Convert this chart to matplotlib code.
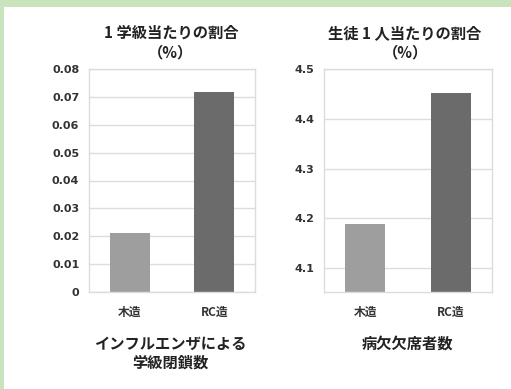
import matplotlib
matplotlib.use("Agg")
import matplotlib.pyplot as plt
from matplotlib.patches import Rectangle

plt.rcParams['font.family'] = ['Noto Sans CJK JP', 'DejaVu Sans']

categories = ["木造", "RC造"]
left_values = [0.0212, 0.0718]
right_values = [4.188, 4.451]
left_ticks = [0, 0.01, 0.02, 0.03, 0.04, 0.05, 0.06, 0.07, 0.08]
left_ticklabels = ["0", "0.01", "0.02", "0.03", "0.04", "0.05", "0.06", "0.07", "0.08"]
right_ticks = [4.1, 4.2, 4.3, 4.4, 4.5]
right_ticklabels = ["4.1", "4.2", "4.3", "4.4", "4.5"]
bar_colors = ["#9e9e9e", "#6b6b6b"]
left_title = ["1 学級当たりの割合", "（%）"]
right_title = ["生徒 1 人当たりの割合", "（%）"]
left_xlabel = ["インフルエンザによる", "学級閉鎖数"]
right_xlabel = ["病欠欠席者数"]

W, H = 511, 389
fig = plt.figure(figsize=(W / 100, H / 100), dpi=100)
fig.patch.set_facecolor("white")
# green frame at top and left
fig.patches.append(Rectangle((0, 1 - 7 / H), 1, 7 / H, transform=fig.transFigure,
                             facecolor="#c9e3bd", edgecolor="none"))
fig.patches.append(Rectangle((0, 0), 4 / W, 1, transform=fig.transFigure,
                             facecolor="#c9e3bd", edgecolor="none"))


def px_axes(x0, x1, y0, y1):
    return fig.add_axes([x0 / W, 1 - y1 / H, (x1 - x0) / W, (y1 - y0) / H])


def px_text(x, y, s, **kw):
    fig.text(x / W, 1 - y / H, s, ha="center", va="center", fontsize=11,
             fontweight="bold", color="#222222", **kw)


def style(ax, ticks, ticklabels, ylim, title, xlabel, tx, lx):
    ax.set_ylim(*ylim)
    ax.set_xlim(-0.48, 1.48)
    ax.set_yticks(ticks)
    ax.set_yticklabels(ticklabels, fontsize=8, fontweight="bold", color="#333333",
                       family=["DejaVu Sans"])
    ax.set_xticks(range(len(categories)))
    ax.set_xticklabels(categories, fontsize=8.5, fontweight="bold", color="#333333")
    ax.tick_params(length=0, pad=7)
    ax.tick_params(axis="x", pad=10)
    ax.yaxis.grid(True, color="#dcdcdc", linewidth=1)
    ax.set_axisbelow(True)
    for s in ax.spines.values():
        s.set_color("#dcdcdc")
        s.set_linewidth(1)
    for i, line in enumerate(title):
        px_text(tx, 33 + 19 * i, line)
    for i, line in enumerate(xlabel):
        px_text(lx, 344 + 19 * i, line)


ax1 = px_axes(89, 255, 69, 292)
ax1.bar(range(len(categories)), left_values, width=0.47, color=bar_colors)
style(ax1, left_ticks, left_ticklabels, (0, 0.08), left_title, left_xlabel, 171, 170)

ax2 = px_axes(324, 492, 69, 292)
ax2.bar(range(len(categories)), right_values, width=0.47, color=bar_colors)
style(ax2, right_ticks, right_ticklabels, (4.052, 4.5), right_title, right_xlabel, 405, 407)

fig.savefig("out.png", dpi=100)
